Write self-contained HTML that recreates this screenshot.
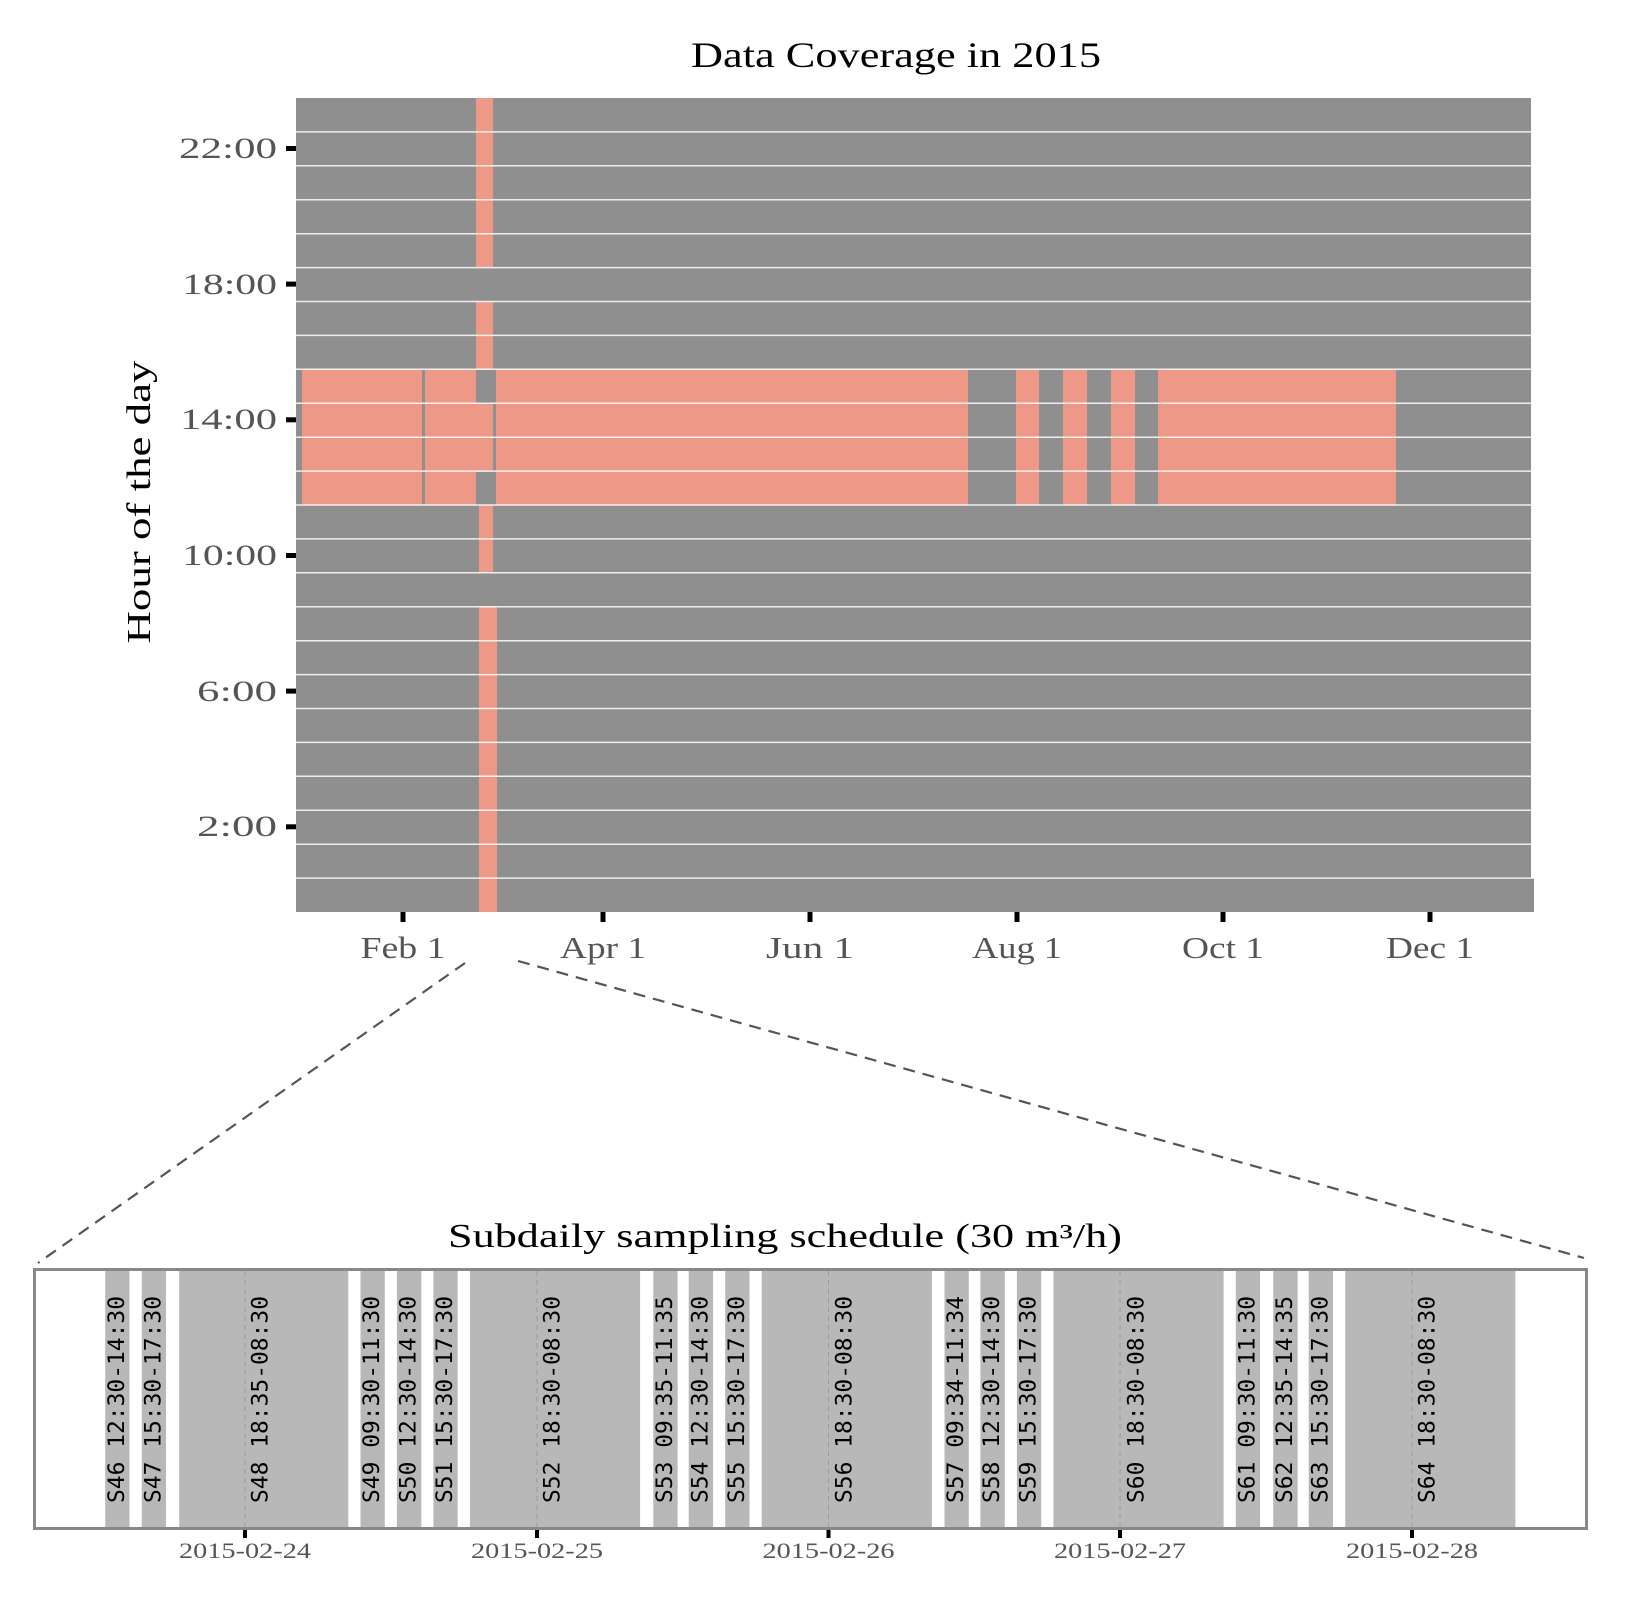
<!DOCTYPE html>
<html><head><meta charset="utf-8"><style>html,body{margin:0;padding:0;background:#fff}svg{display:block}</style></head>
<body>
<svg width="1634" height="1618" viewBox="0 0 1634 1618" xmlns="http://www.w3.org/2000/svg">
<g font-family="'Liberation Serif', serif">
<text x="896" y="67" font-size="36" text-anchor="middle" fill="#000" textLength="410" lengthAdjust="spacingAndGlyphs">Data Coverage in 2015</text>
<text transform="translate(150,502) rotate(-90)" font-size="34" text-anchor="middle" fill="#000" textLength="283" lengthAdjust="spacingAndGlyphs">Hour of the day</text>
</g>
<!-- heatmap -->
<rect x="296" y="98" width="1235" height="780" fill="#8f8f8f"/>
<rect x="296" y="878" width="1238" height="34" fill="#8f8f8f"/>
<g fill="#ee9887">
<rect x="476" y="98" width="17" height="169.6"/>
<rect x="476" y="301.5" width="17" height="67.8"/>
<rect x="302" y="369.3" width="120" height="135.7"/>
<rect x="425" y="369.3" width="51" height="135.7"/>
<rect x="476" y="403.2" width="17" height="67.9"/>
<rect x="496" y="369.3" width="472" height="135.7"/>
<rect x="1016" y="369.3" width="23" height="135.7"/>
<rect x="1063" y="369.3" width="24" height="135.7"/>
<rect x="1111" y="369.3" width="24" height="135.7"/>
<rect x="1158" y="369.3" width="238" height="135.7"/>
<rect x="479" y="505" width="14" height="67.8"/>
<rect x="479" y="606.7" width="18" height="305.3"/>
</g>
<g stroke="#ffffff" stroke-opacity="0.85" stroke-width="1.5">
<line x1="296" x2="1531" y1="131.9" y2="131.9"/><line x1="296" x2="1531" y1="165.8" y2="165.8"/>
<line x1="296" x2="1531" y1="199.8" y2="199.8"/><line x1="296" x2="1531" y1="233.7" y2="233.7"/>
<line x1="296" x2="1531" y1="267.6" y2="267.6"/><line x1="296" x2="1531" y1="301.5" y2="301.5"/>
<line x1="296" x2="1531" y1="335.4" y2="335.4"/><line x1="296" x2="1531" y1="369.3" y2="369.3"/>
<line x1="296" x2="1531" y1="403.3" y2="403.3"/><line x1="296" x2="1531" y1="437.2" y2="437.2"/>
<line x1="296" x2="1531" y1="471.1" y2="471.1"/><line x1="296" x2="1531" y1="505" y2="505"/>
<line x1="296" x2="1531" y1="538.9" y2="538.9"/><line x1="296" x2="1531" y1="572.8" y2="572.8"/>
<line x1="296" x2="1531" y1="606.8" y2="606.8"/><line x1="296" x2="1531" y1="640.7" y2="640.7"/>
<line x1="296" x2="1531" y1="674.6" y2="674.6"/><line x1="296" x2="1531" y1="708.5" y2="708.5"/>
<line x1="296" x2="1531" y1="742.4" y2="742.4"/><line x1="296" x2="1531" y1="776.3" y2="776.3"/>
<line x1="296" x2="1531" y1="810.3" y2="810.3"/><line x1="296" x2="1531" y1="844.2" y2="844.2"/>
<line x1="296" x2="1534" y1="878.1" y2="878.1"/>
</g>
<!-- y ticks -->
<g fill="#000">
<rect x="286" y="146" width="10" height="5"/><rect x="286" y="281.6" width="10" height="5"/>
<rect x="286" y="417.3" width="10" height="5"/><rect x="286" y="553" width="10" height="5"/>
<rect x="286" y="688.6" width="10" height="5"/><rect x="286" y="824.3" width="10" height="5"/>
</g>
<g font-family="'Liberation Serif', serif" font-size="30" fill="#555" text-anchor="end">
<text x="277" y="158" textLength="98" lengthAdjust="spacingAndGlyphs">22:00</text>
<text x="277" y="294" textLength="95" lengthAdjust="spacingAndGlyphs">18:00</text>
<text x="277" y="429" textLength="97" lengthAdjust="spacingAndGlyphs">14:00</text>
<text x="277" y="565" textLength="95" lengthAdjust="spacingAndGlyphs">10:00</text>
<text x="277" y="701" textLength="80" lengthAdjust="spacingAndGlyphs">6:00</text>
<text x="277" y="836" textLength="80" lengthAdjust="spacingAndGlyphs">2:00</text>
</g>
<!-- x ticks -->
<g fill="#000">
<rect x="400.5" y="912" width="5" height="10"/><rect x="600.5" y="912" width="5" height="10"/>
<rect x="807.5" y="912" width="5" height="10"/><rect x="1014.5" y="912" width="5" height="10"/>
<rect x="1220.5" y="912" width="5" height="10"/><rect x="1427.5" y="912" width="5" height="10"/>
</g>
<g font-family="'Liberation Serif', serif" font-size="31" fill="#555" text-anchor="middle">
<text x="403" y="958" textLength="85" lengthAdjust="spacingAndGlyphs">Feb 1</text>
<text x="603" y="958" textLength="86" lengthAdjust="spacingAndGlyphs">Apr 1</text>
<text x="810" y="958" textLength="88" lengthAdjust="spacingAndGlyphs">Jun 1</text>
<text x="1017" y="958" textLength="90" lengthAdjust="spacingAndGlyphs">Aug 1</text>
<text x="1223" y="958" textLength="82" lengthAdjust="spacingAndGlyphs">Oct 1</text>
<text x="1430" y="958" textLength="88" lengthAdjust="spacingAndGlyphs">Dec 1</text>
</g>
<!-- connectors -->
<g stroke="#555" stroke-width="2.2" stroke-dasharray="12,8" fill="none">
<line x1="465" y1="963" x2="38" y2="1263"/>
<line x1="518" y1="961" x2="1584" y2="1258"/>
</g>
<!-- bottom panel -->
<text x="785" y="1247" font-family="'Liberation Serif', serif" font-size="34" text-anchor="middle" fill="#000" textLength="674" lengthAdjust="spacingAndGlyphs">Subdaily sampling schedule (30 m³/h)</text>
<g fill="#b8b8b8">
<rect x="105.2" y="1271" width="24.3" height="256"/>
<rect x="141.7" y="1271" width="24.3" height="256"/>
<rect x="179.2" y="1271" width="169.1" height="256"/>
<rect x="360.5" y="1271" width="24.3" height="256"/>
<rect x="396.9" y="1271" width="24.4" height="256"/>
<rect x="433.4" y="1271" width="24.3" height="256"/>
<rect x="469.9" y="1271" width="170.2" height="256"/>
<rect x="653.3" y="1271" width="24.3" height="256"/>
<rect x="688.7" y="1271" width="24.4" height="256"/>
<rect x="725.2" y="1271" width="24.3" height="256"/>
<rect x="761.7" y="1271" width="170.2" height="256"/>
<rect x="944.5" y="1271" width="24.3" height="256"/>
<rect x="980.4" y="1271" width="24.4" height="256"/>
<rect x="1016.9" y="1271" width="24.3" height="256"/>
<rect x="1053.4" y="1271" width="170.2" height="256"/>
<rect x="1235.8" y="1271" width="24.3" height="256"/>
<rect x="1273.2" y="1271" width="24.4" height="256"/>
<rect x="1308.7" y="1271" width="24.3" height="256"/>
<rect x="1345.2" y="1271" width="170.2" height="256"/>
</g>
<g stroke="#9a9a9a" stroke-width="1" stroke-dasharray="5,4">
<line x1="245" x2="245" y1="1271" y2="1527"/><line x1="537" x2="537" y1="1271" y2="1527"/>
<line x1="828.5" x2="828.5" y1="1271" y2="1527"/><line x1="1120" x2="1120" y1="1271" y2="1527"/>
<line x1="1412" x2="1412" y1="1271" y2="1527"/>
</g>
<rect x="34.5" y="1269.5" width="1552" height="259" fill="none" stroke="#888" stroke-width="3"/>
<g font-family="'DejaVu Sans Mono', 'Liberation Mono', monospace" font-size="22" fill="#000" dominant-baseline="central">
<text transform="translate(117.4,1503) rotate(-90)" textLength="207" lengthAdjust="spacingAndGlyphs">S46 12:30-14:30</text>
<text transform="translate(153.9,1503) rotate(-90)" textLength="207" lengthAdjust="spacingAndGlyphs">S47 15:30-17:30</text>
<text transform="translate(261,1503) rotate(-90)" textLength="207" lengthAdjust="spacingAndGlyphs">S48 18:35-08:30</text>
<text transform="translate(372.7,1503) rotate(-90)" textLength="207" lengthAdjust="spacingAndGlyphs">S49 09:30-11:30</text>
<text transform="translate(409.1,1503) rotate(-90)" textLength="207" lengthAdjust="spacingAndGlyphs">S50 12:30-14:30</text>
<text transform="translate(445.6,1503) rotate(-90)" textLength="207" lengthAdjust="spacingAndGlyphs">S51 15:30-17:30</text>
<text transform="translate(553,1503) rotate(-90)" textLength="207" lengthAdjust="spacingAndGlyphs">S52 18:30-08:30</text>
<text transform="translate(665.5,1503) rotate(-90)" textLength="207" lengthAdjust="spacingAndGlyphs">S53 09:35-11:35</text>
<text transform="translate(700.9,1503) rotate(-90)" textLength="207" lengthAdjust="spacingAndGlyphs">S54 12:30-14:30</text>
<text transform="translate(737.4,1503) rotate(-90)" textLength="207" lengthAdjust="spacingAndGlyphs">S55 15:30-17:30</text>
<text transform="translate(845,1503) rotate(-90)" textLength="207" lengthAdjust="spacingAndGlyphs">S56 18:30-08:30</text>
<text transform="translate(956.7,1503) rotate(-90)" textLength="207" lengthAdjust="spacingAndGlyphs">S57 09:34-11:34</text>
<text transform="translate(992.6,1503) rotate(-90)" textLength="207" lengthAdjust="spacingAndGlyphs">S58 12:30-14:30</text>
<text transform="translate(1029.1,1503) rotate(-90)" textLength="207" lengthAdjust="spacingAndGlyphs">S59 15:30-17:30</text>
<text transform="translate(1137,1503) rotate(-90)" textLength="207" lengthAdjust="spacingAndGlyphs">S60 18:30-08:30</text>
<text transform="translate(1248,1503) rotate(-90)" textLength="207" lengthAdjust="spacingAndGlyphs">S61 09:30-11:30</text>
<text transform="translate(1285.4,1503) rotate(-90)" textLength="207" lengthAdjust="spacingAndGlyphs">S62 12:35-14:35</text>
<text transform="translate(1320.9,1503) rotate(-90)" textLength="207" lengthAdjust="spacingAndGlyphs">S63 15:30-17:30</text>
<text transform="translate(1428,1503) rotate(-90)" textLength="207" lengthAdjust="spacingAndGlyphs">S64 18:30-08:30</text>
</g>
<g fill="#000">
<rect x="243" y="1530" width="4" height="8"/><rect x="535" y="1530" width="4" height="8"/>
<rect x="826.5" y="1530" width="4" height="8"/><rect x="1118" y="1530" width="4" height="8"/>
<rect x="1410" y="1530" width="4" height="8"/>
</g>
<g font-family="'Liberation Serif', serif" font-size="22" fill="#555" text-anchor="middle">
<text x="245" y="1558" textLength="132" lengthAdjust="spacingAndGlyphs">2015-02-24</text>
<text x="537" y="1558" textLength="132" lengthAdjust="spacingAndGlyphs">2015-02-25</text>
<text x="828.5" y="1558" textLength="132" lengthAdjust="spacingAndGlyphs">2015-02-26</text>
<text x="1120" y="1558" textLength="132" lengthAdjust="spacingAndGlyphs">2015-02-27</text>
<text x="1412" y="1558" textLength="132" lengthAdjust="spacingAndGlyphs">2015-02-28</text>
</g>
</svg>
</body></html>
